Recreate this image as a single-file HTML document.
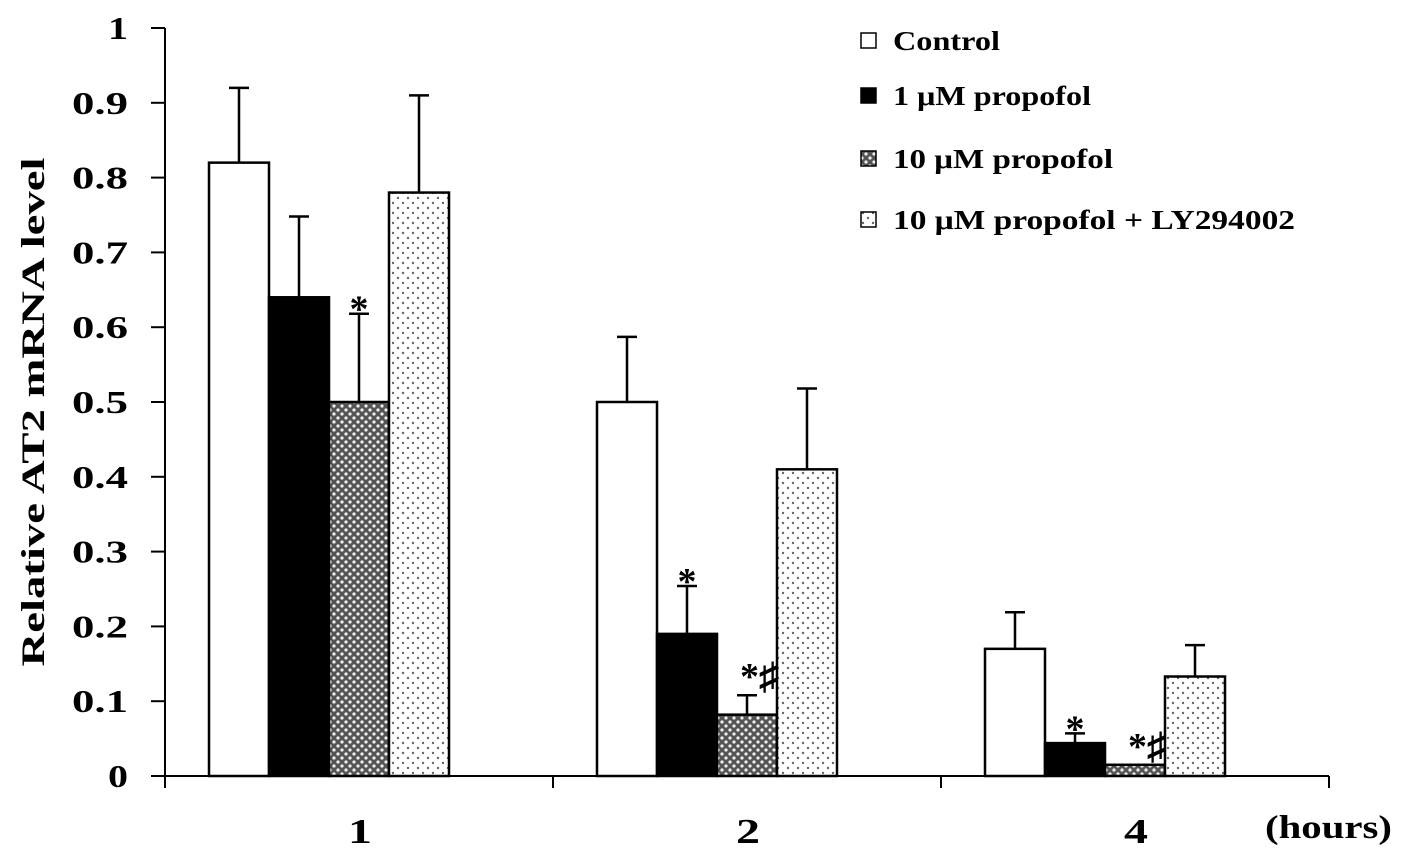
<!DOCTYPE html>
<html><head><meta charset="utf-8"><style>
body{margin:0;background:#fff}
svg{display:block;font-family:"Liberation Serif",serif;font-weight:bold}
</style></head><body>
<svg id="chart" width="1417" height="861">
<defs>
<pattern id="hatch" width="8" height="8" patternUnits="userSpaceOnUse"><rect width="8" height="8" fill="#555"/><circle cx="2" cy="2" r="1.6" fill="#eee"/><circle cx="6" cy="6" r="1.6" fill="#eee"/></pattern>
<pattern id="dots" width="10" height="10" patternUnits="userSpaceOnUse"><rect width="10" height="10" fill="#fff"/><circle cx="3" cy="3" r="1.2" fill="#666"/><circle cx="8" cy="8" r="1.2" fill="#666"/></pattern>
</defs>
<g id="g"></g>
</svg>
<script>
const categories=["1","2","4"];
const seriesNames=["Control","1 μM propofol","10 μM propofol","10 μM propofol + LY294002"];
const control=[0.82,0.5,0.17];
const prop1=[0.64,0.19,0.044];
const prop10=[0.5,0.082,0.015];
const propLY=[0.78,0.41,0.133];
const errControl=[0.1,0.087,0.049];
const errProp1=[0.108,0.064,0.013];
const errProp10=[0.118,0.026,0];
const errPropLY=[0.13,0.108,0.042];
const yTicks=["0","0.1","0.2","0.3","0.4","0.5","0.6","0.7","0.8","0.9","1"];
const marks=[[],["*","*","*"],["*","*♯","*♯"],[]];
const marksVisible=[[0,0,0],[0,1,1],[1,1,1],[0,0,0]];

const NS="http://www.w3.org/2000/svg",g=document.getElementById('g');
const X0=165,X1=1329,Y0=776,Y1=28;
const y=v=>Y0-(Y0-Y1)*v;
const band=(X1-X0)/categories.length;
const cx=i=>X0+band*(i+0.5);
const bw=60;
function mk(t,a,txt){const e=document.createElementNS(NS,t);for(const k in a)e.setAttribute(k,a[k]);if(txt!==undefined)e.textContent=txt;g.appendChild(e);return e;}
const series=[control,prop1,prop10,propLY],errs=[errControl,errProp1,errProp10,errPropLY];
const fills=["#fff","#000","url(#hatch)","url(#dots)"];
let e=mk('line',{x1:X0,y1:Y1,x2:X0,y2:Y0,stroke:'#000','stroke-width':2});

e=mk('line',{x1:X0,y1:Y0,x2:X1,y2:Y0,stroke:'#000','stroke-width':2});

yTicks.forEach((t,i)=>{const v=i/10;
 e=mk('line',{x1:X0-14,x2:X0,y1:y(v),y2:y(v),stroke:'#000','stroke-width':2});
 
 const w=t.length>1?56:20;
 e=mk('text',{x:128-w,y:y(v)+11,'font-size':32,textLength:w,lengthAdjust:'spacingAndGlyphs'},t);
 
});
for(let i=0;i<=categories.length;i++){const xx=X0+band*i;
 e=mk('line',{x1:xx,x2:xx,y1:Y0,y2:Y0+12,stroke:'#000','stroke-width':2});
 }
categories.forEach((c,i)=>{e=mk('text',{x:cx(i)-11,y:843,'font-size':35,textLength:24,lengthAdjust:'spacingAndGlyphs'},c);
 });
e=mk('text',{x:1265,y:838,'font-size':33,textLength:127,lengthAdjust:'spacingAndGlyphs'},"(hours)");

e=mk('text',{x:-254.5,y:0,'font-size':33,textLength:509,lengthAdjust:'spacingAndGlyphs',transform:'translate(44,412) rotate(-90)'},"Relative AT2 mRNA level");

categories.forEach((c,i)=>{series.forEach((s,j)=>{
 const x=cx(i)-2*bw-30+j*bw,top=y(s[i]);
 e=mk('rect',{x:x,y:top,width:bw,height:Y0-top,fill:fills[j],stroke:'#000','stroke-width':2.5});
 
 const er=errs[j][i];
 const et=y(s[i]+er);
 if(er>0){const m=x+bw/2;
  e=mk('path',{d:`M${m},${top}V${et}M${m-10},${et}H${m+10}`,stroke:'#000','stroke-width':2.5,fill:'none'});
  }
 if(marksVisible[j][i]){const two=marks[j][i].length>1;
  e=mk('text',{x:x+bw/2+(two?12:0),y:et+(two?-6:8),'text-anchor':'middle','font-size':38},marks[j][i]);
  }
});});
const ly=[47,102,165,226];
const legendW=[107,198,220,402];
seriesNames.forEach((n,j)=>{
 e=mk('rect',{x:861,y:ly[j]-14,width:15,height:15,fill:fills[j],stroke:'#000','stroke-width':1.5});
 
 e=mk('text',{x:893,y:ly[j]+3,'font-size':27,textLength:legendW[j],lengthAdjust:'spacingAndGlyphs'},n);
 
});
</script>
</body></html>
